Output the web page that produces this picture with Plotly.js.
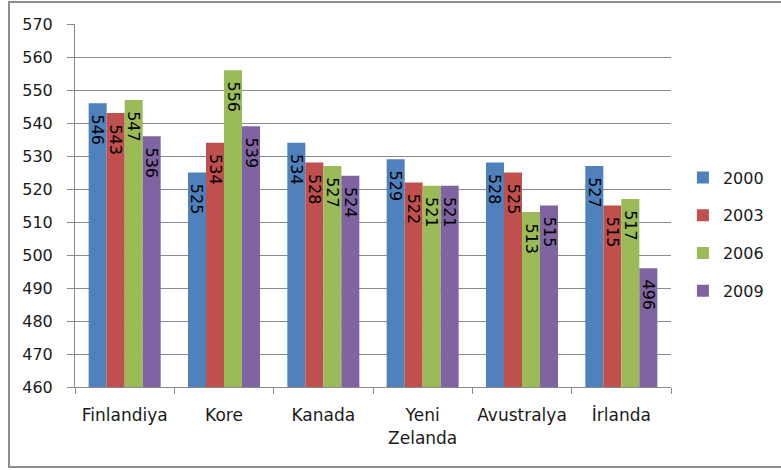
<!DOCTYPE html>
<html>
<head>
<meta charset="utf-8">
<script src="https://cdn.plot.ly/plotly-3.0.1.min.js"></script>
<style>
html,body{margin:0;padding:0;background:#fff;}
#frame{position:absolute;left:8px;top:1px;width:790px;height:467px;border:2px solid #8e8e8e;box-sizing:border-box;}
#chart{position:absolute;left:0;top:0;width:781px;height:470px;}
</style>
</head>
<body>
<div id="frame"></div>
<div id="chart"></div>
<script>
const categories = ["Finlandiya", "Kore", "Kanada", "Yeni<br>Zelanda", "Avustralya", "İrlanda"];
const seriesNames = ["2000", "2003", "2006", "2009"];
const values2000 = [546, 525, 534, 529, 528, 527];
const values2003 = [543, 534, 528, 522, 525, 515];
const values2006 = [547, 556, 527, 521, 513, 517];
const values2009 = [536, 539, 524, 521, 515, 496];
const yTickVals = [460, 470, 480, 490, 500, 510, 520, 530, 540, 550, 560, 570];

const allValues = [values2000, values2003, values2006, values2009];
const colors = ["#4F81BD", "#C0504D", "#9BBB59", "#8064A2"];
const FONT = "DejaVu Sans, Verdana, sans-serif";

const traces = allValues.map((vals, i) => ({
  type: "bar",
  name: seriesNames[i],
  x: categories,
  y: vals,
  base: 0,
  marker: {color: colors[i], line: {width: 0}},
  text: vals.map(v => "\u00a0\u2009" + v),
  textposition: "inside",
  insidetextanchor: "end",
  textangle: 90,
  constraintext: "none",
  textfont: {family: FONT, size: 16, color: "#000"},
  legendgroup: "g" + i,
  hoverinfo: "x+y+name",
  cliponaxis: true
}));

const layout = {
  width: 781,
  height: 470,
  margin: {l: 75, r: 110, t: 24, b: 83},
  paper_bgcolor: "rgba(0,0,0,0)",
  plot_bgcolor: "rgba(0,0,0,0)",
  barmode: "group",
  bargap: 0.275,
  bargroupgap: 0,
  font: {family: FONT, size: 16, color: "#1a1a1a"},
  xaxis: {
    type: "category",
    showline: true,
    linecolor: "#8a8a8a",
    linewidth: 1,
    ticks: "outside",
    tickson: "boundaries",
    ticklen: 6,
    tickcolor: "#8a8a8a",
    showgrid: false,
    ticklabelstandoff: 13,
    tickfont: {family: FONT, size: 17, color: "#1a1a1a"}
  },
  yaxis: {
    range: [460, 570],
    tickvals: yTickVals,
    ticktext: yTickVals.map(String),
    showline: true,
    linecolor: "#8a8a8a",
    linewidth: 1,
    ticks: "outside",
    ticklen: 7,
    tickcolor: "#8a8a8a",
    showgrid: true,
    gridcolor: "#8a8a8a",
    gridwidth: 1,
    zeroline: false,
    ticklabelstandoff: 11,
    tickfont: {family: FONT, size: 16, color: "#1a1a1a"}
  },
  legend: {
    x: 1.02,
    xanchor: "left",
    y: 0.42,
    yanchor: "middle",
    font: {family: FONT, size: 16, color: "#1a1a1a"},
    tracegroupgap: 14,
    itemwidth: 30,
    bgcolor: "rgba(0,0,0,0)"
  },
  showlegend: true
};

Plotly.newPlot("chart", traces, layout, {displayModeBar: false, staticPlot: true});
</script>
</body>
</html>
